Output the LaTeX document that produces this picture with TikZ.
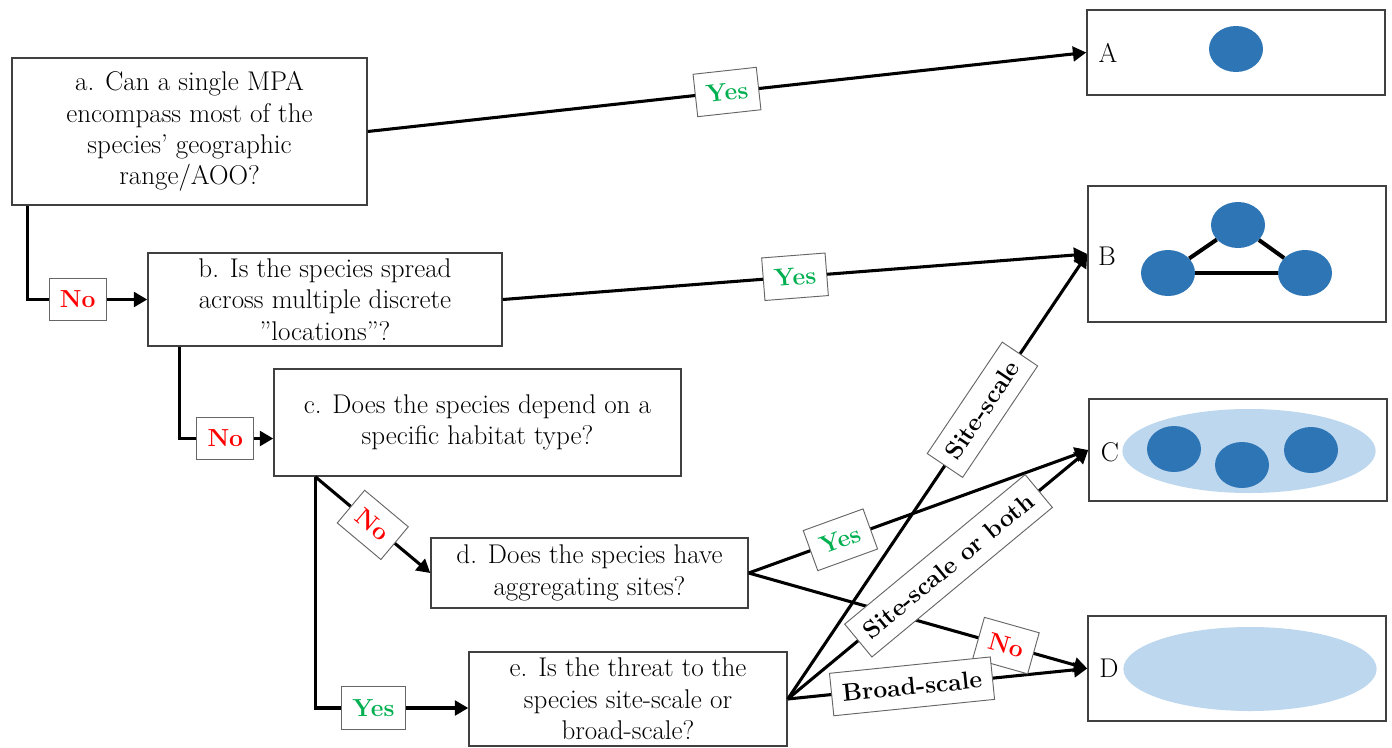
\documentclass[tikz,border=0pt]{standalone}
\usepackage{fontspec}
\usetikzlibrary{arrows.meta,calc,shapes.geometric}
\definecolor{yesgreen}{HTML}{00B050}
\definecolor{nored}{HTML}{FF0000}
\definecolor{dotblue}{HTML}{2E75B6}
\definecolor{areablue}{HTML}{BDD7EE}
\definecolor{boxline}{HTML}{404040}
\tikzset{
  qbox/.style={draw=boxline, line width=1.1pt, fill=white, align=center, inner sep=0pt,
    font=\fontsize{20.3}{23.5}\selectfont},
  outbox/.style={draw=boxline, line width=1.1pt, inner sep=0pt},
  letter/.style={font=\fontsize{20.3}{23}\selectfont, inner sep=0pt},
  conn/.style={line width=2.3pt, -{Triangle[length=10pt,width=11pt]}},
  lab/.style={draw=gray!80!black, line width=0.7pt, fill=white, inner xsep=8pt,
    minimum height=32pt, font=\bfseries\fontsize{18.5}{21}\selectfont},
  yeslab/.style={lab, text=yesgreen},
  nolab/.style={lab, text=nored},
  dot/.style={ellipse, fill=dotblue, minimum width=40.5pt, minimum height=34.5pt, inner sep=0pt},
  area/.style={ellipse, fill=areablue, minimum width=190pt, minimum height=63pt, inner sep=0pt},
  tie/.style={line width=3pt}
}
\begin{document}
\begin{tikzpicture}[x=0.75pt,y=-0.75pt]
\useasboundingbox (0,0) rectangle (1392,747);
% question boxes
\node[qbox, minimum width=266.25pt, minimum height=110.25pt] (a) at (189.5,131.5)
  {a. Can a single MPA\\ encompass most of the\\ species’ geographic\\ range/AOO?};
\node[qbox, minimum width=265.5pt, minimum height=69.75pt] (b) at (325,299.5)
  {b. Is the species spread\\ across multiple discrete\\ ”locations”?};
\node[qbox, minimum width=305.25pt, minimum height=80.25pt] (c) at (477.5,422.5)
  {c. Does the species depend on a\\ specific habitat type?};
\node[qbox, minimum width=237.75pt, minimum height=52.5pt] (d) at (589.5,573)
  {d. Does the species have\\ aggregating sites?};
\node[qbox, minimum width=238.5pt, minimum height=70.5pt] (e) at (628,699)
  {e. Is the threat to the\\ species site-scale or\\ broad-scale?};
% outcome boxes
\node[outbox, minimum width=223.5pt, minimum height=63.75pt] (A) at (1236,52.5) {};
\node[outbox, minimum width=223.5pt, minimum height=102pt] (B) at (1237,254) {};
\node[outbox, minimum width=223.5pt, minimum height=76.5pt] (C) at (1238,450) {};
\node[outbox, minimum width=223.5pt, minimum height=78.75pt] (D) at (1237,668.5) {};
\node[letter] (lA) at (1108,53) {A};
\node[letter] (lB) at (1107,256) {B};
\node[letter] (lC) at (1110,452) {C};
\node[letter] (lD) at (1109,668) {D};
% A content
\node[dot] (a1) at (1236,49) {};
% B content
\node[dot] (b1) at (1238,225) {};
\node[dot] (b2) at (1168,273) {};
\node[dot] (b3) at (1305,273) {};
\draw[tie] (b1) -- (b2);
\draw[tie] (b1) -- (b3);
\draw[tie] (b2) -- (b3);
% C content
\node[area] (cArea) at (1249,451) {};
\node[dot] (c1) at (1174,449) {};
\node[dot] (c2) at (1242,465) {};
\node[dot] (c3) at (1311,450) {};
% D content
\node[area] (dArea) at (1250,669) {};
% connectors
\coordinate (aDrop) at ($(a.south west)+(16,0)$);
\coordinate (bDrop) at ($(b.south west)+(32,0)$);
\coordinate (cDrop) at ($(c.south west)+(42,0)$);
\coordinate (cIn) at ($(c.west)+(0,16)$);
\coordinate (eIn) at ($(e.west)+(0,9)$);
\draw[conn] (a.east) -- (A.west);
\draw[conn] (b.east) -- (B.west);
\draw[conn] (aDrop) |- (b.west);
\draw[conn] (bDrop) |- (cIn);
\draw[conn] (cDrop) |- (eIn);
\draw[conn] (cDrop) -- (d.west);
\draw[conn] (d.east) -- (C.west);
\draw[conn] (d.east) -- (D.west);
\draw[conn] (e.east) -- (B.west);
\draw[conn] (e.east) -- (C.west);
\draw[conn] (e.east) -- (D.west);
% labels
\path (a.east) -- (A.west) node[yeslab, pos=0.5, sloped] (l1) {Yes};
\path (b.east) -- (B.west) node[yeslab, pos=0.5, sloped] (l2) {Yes};
\path (aDrop) |- (b.west) node[nolab, pos=0.71] (l3) {No};
\path (bDrop) |- (cIn) node[nolab, pos=0.745] (l4) {No};
\path (cDrop) |- (eIn) node[yeslab, pos=0.69] (l5) {Yes};
\path (cDrop) -- (d.west) node[nolab, pos=0.5, sloped] (l6) {No};
\path (d.east) -- (C.west) node[yeslab, pos=0.27, sloped] (l7) {Yes};
\path (d.east) -- (D.west) node[nolab, pos=0.76, sloped] (l8) {No};
\path (e.east) -- (B.west) node[lab, pos=0.65, sloped] (l9) {Site-scale};
\path (e.east) -- (C.west) node[lab, pos=0.535, sloped] (l10) {Site-scale or both};
\path (e.east) -- (D.west) node[lab, pos=0.415, sloped] (l11) {Broad-scale};
\end{tikzpicture}
\end{document}
